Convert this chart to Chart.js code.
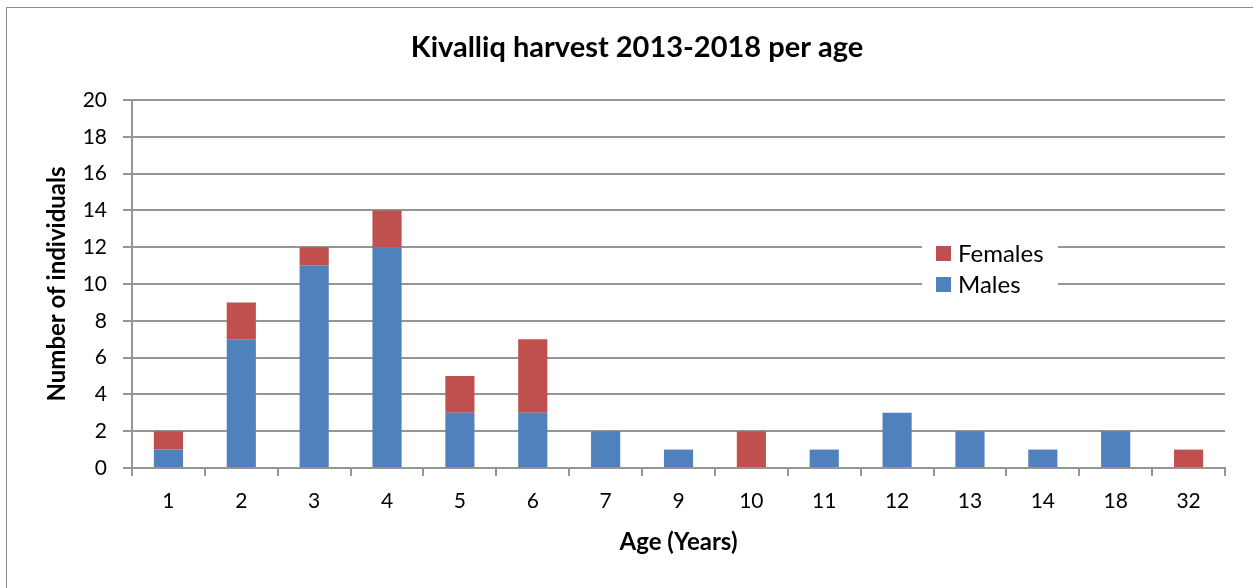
<!DOCTYPE html>
<html>
<head>
<meta charset="utf-8">
<script src="https://cdn.jsdelivr.net/npm/chart.js@4"></script>
<style>
  html, body { margin: 0; padding: 0; background: #fff; overflow: hidden; }
  #wrap { position: relative; width: 1253px; height: 588px; }
  #frame { position: absolute; left: 6px; top: 7px; width: 1400px; height: 700px; border: 1px solid #8a8a8a; }
  #chart { position: absolute; left: 0; top: 0; }
</style>
</head>
<body>
<div id="wrap">
  <div id="frame"></div>
  <canvas id="chart" width="1253" height="588"></canvas>
</div>
<script>
const ages = ["1", "2", "3", "4", "5", "6", "7", "9", "10", "11", "12", "13", "14", "18", "32"];
const males = [1, 7, 11, 12, 3, 3, 2, 1, 0, 1, 3, 2, 1, 2, 0];
const females = [1, 2, 1, 2, 2, 4, 0, 0, 2, 0, 0, 0, 0, 0, 1];
const yTicks = [0, 2, 4, 6, 8, 10, 12, 14, 16, 18, 20];

const FONT = "Lato, 'Open Sans', sans-serif";
const GRID = "#959595";

// title drawn by hand so the plot area stays where it is in the original
const titlePlugin = {
  id: "fixedTitle",
  afterDraw(chart) {
    const ctx = chart.ctx;
    ctx.save();
    ctx.font = "bold 29px " + FONT;
    ctx.fillStyle = "#000";
    ctx.textAlign = "center";
    ctx.textBaseline = "middle";
    ctx.fillText("Kivalliq harvest 2013-2018 per age", 637, 48);
    ctx.restore();
  }
};

// legend sits inside the plot, females listed first
const insideLegend = {
  id: "insideLegend",
  afterDraw(chart) {
    const ctx = chart.ctx;
    const items = chart.data.datasets.slice().reverse();
    ctx.save();
    ctx.fillStyle = "#fff";
    ctx.fillRect(922, 228, 136, 76);
    ctx.font = "24px " + FONT;
    ctx.textBaseline = "middle";
    items.forEach(function (ds, i) {
      const cy = 253 + i * 31;
      ctx.fillStyle = ds.backgroundColor;
      ctx.fillRect(936, cy - 7, 15, 15);
      ctx.fillStyle = "#000";
      ctx.fillText(ds.label, 958, cy + 1);
    });
    ctx.restore();
  }
};

new Chart(document.getElementById("chart"), {
  type: "bar",
  data: {
    labels: ages,
    datasets: [
      { label: "Males", data: males, backgroundColor: "#4F81BD", barPercentage: 0.4, categoryPercentage: 1 },
      { label: "Females", data: females, backgroundColor: "#C0504D", barPercentage: 0.4, categoryPercentage: 1 }
    ]
  },
  options: {
    responsive: false,
    animation: false,
    layout: { padding: { top: 100, right: 28, bottom: 0, left: 0 } },
    plugins: {
      legend: { display: false },
      title: { display: false },
      tooltip: { enabled: false }
    },
    scales: {
      x: {
        stacked: true,
        afterFit: function (scale) { scale.height = 120; },
        grid: { offset: true, drawOnChartArea: false, drawTicks: true, tickLength: 8, color: GRID, lineWidth: 2 },
        border: { color: GRID, width: 2 },
        ticks: { color: "#000", padding: 13, font: { family: FONT, size: 21 } },
        title: { display: true, text: "Age (Years)", color: "#000", padding: { top: 4, bottom: 31 }, font: { family: FONT, size: 24, weight: "bold" } }
      },
      y: {
        stacked: true,
        min: 0,
        max: 20,
        afterFit: function (scale) { scale.width = 132; },
        afterBuildTicks: function (scale) { scale.ticks = yTicks.map(function (v) { return { value: v }; }); },
        grid: { drawTicks: true, tickLength: 9, color: GRID, lineWidth: 2 },
        border: { color: GRID, width: 2 },
        ticks: { color: "#000", padding: 16, font: { family: FONT, size: 21 } },
        title: { display: true, text: "Number of individuals", color: "#000", padding: { top: 43, bottom: 4 }, font: { family: FONT, size: 24, weight: "bold" } }
      }
    }
  },
  plugins: [titlePlugin, insideLegend]
});
</script>
</body>
</html>
